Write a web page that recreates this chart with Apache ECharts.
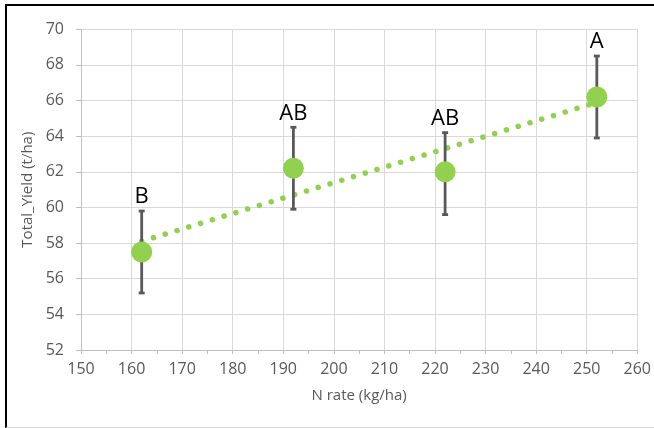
<!DOCTYPE html>
<html>
<head>
<meta charset="utf-8">
<script src="https://cdn.jsdelivr.net/npm/echarts@6/dist/echarts.min.js"></script>
<style>
  html, body { margin: 0; padding: 0; background: #fff; }
  #wrap { position: relative; width: 654px; height: 428px; overflow: hidden; background: #fff; }
  #frame { position: absolute; left: 5px; top: 4px; width: 700px; height: 421px;
           border-top: 2px solid #000; border-left: 2px solid #000; border-bottom: 1px solid #d9d9d9; }
  #chart { position: absolute; left: 0; top: 0; width: 654px; height: 428px; }
</style>
</head>
<body>
<div id="wrap">
  <div id="frame"></div>
  <div id="chart"></div>
</div>
<script>
// N rate (kg/ha)
const nRate = [162, 192, 222, 252];
// Total yield means (t/ha)
const yieldMean = [57.5, 62.2, 62.0, 66.2];
// Error bar ends
const errLow = [55.2, 59.9, 59.6, 63.9];
const errHigh = [59.8, 64.5, 64.2, 68.5];
// Significance letters
const letters = ['B', 'AB', 'AB', 'A'];
// Linear trendline end points
const trendX = [162, 252];
const trendY = [58.1, 65.9];

const FONT = 'Open Sans';
const GREEN = '#92d050';
const chart = echarts.init(document.getElementById('chart'), null, { renderer: 'canvas' });

chart.setOption({
  animation: false,
  backgroundColor: 'transparent',
  grid: { left: 81, right: 15, top: 29.3, bottom: 78, containLabel: false },
  xAxis: {
    type: 'value', min: 150, max: 260, interval: 10,
    name: 'N rate (kg/ha)', nameLocation: 'middle', nameGap: 38,
    nameTextStyle: { color: '#595959', fontSize: 15, fontFamily: FONT },
    axisLine: { show: true, lineStyle: { color: '#bfbfbf', width: 1 } },
    axisTick: { show: true, length: 4, lineStyle: { color: '#bfbfbf' } },
    minorTick: { show: true, splitNumber: 2, length: 4, lineStyle: { color: '#bfbfbf' } },
    axisLabel: { color: '#595959', fontSize: 16, fontFamily: FONT, margin: 11 },
    splitLine: { show: true, lineStyle: { color: '#d9d9d9', width: 1 } }
  },
  yAxis: {
    type: 'value', min: 52, max: 70, interval: 2,
    name: 'Total_Yield (t/ha)', nameLocation: 'middle', nameGap: 44, nameRotate: 90,
    nameTextStyle: { color: '#595959', fontSize: 15, fontFamily: FONT },
    axisLine: { show: true, lineStyle: { color: '#bfbfbf', width: 1 } },
    axisTick: { show: true, length: 5, lineStyle: { color: '#bfbfbf' } },
    axisLabel: { color: '#595959', fontSize: 16, fontFamily: FONT, margin: 17 },
    splitLine: { show: true, lineStyle: { color: '#d9d9d9', width: 1 } }
  },
  series: [
    {
      type: 'line', name: 'trend',
      data: trendX.map((x, i) => [x, trendY[i]]),
      symbol: 'none', silent: true, z: 1,
      lineStyle: { color: GREEN, width: 5.5, type: [0.1, 12.2], cap: 'round' }
    },
    {
      type: 'custom', name: 'err', z: 2,
      data: nRate.map((x, i) => [x, errLow[i], errHigh[i]]),
      encode: { x: 0, y: [1, 2] },
      renderItem: function (params, api) {
        const x = api.value(0), lo = api.value(1), hi = api.value(2);
        const pLo = api.coord([x, lo]);
        const pHi = api.coord([x, hi]);
        const st = { stroke: '#595959', lineWidth: 2.8 };
        const capW = 3;
        return {
          type: 'group',
          children: [
            { type: 'line', shape: { x1: pLo[0], y1: pLo[1], x2: pHi[0], y2: pHi[1] }, style: st },
            { type: 'line', shape: { x1: pHi[0] - capW, y1: pHi[1], x2: pHi[0] + capW, y2: pHi[1] }, style: st },
            { type: 'line', shape: { x1: pLo[0] - capW, y1: pLo[1], x2: pLo[0] + capW, y2: pLo[1] }, style: st },
            { type: 'text', style: {
                text: letters[params.dataIndex], x: pHi[0], y: pHi[1] - 3,
                align: 'center', verticalAlign: 'bottom',
                fontSize: 22, fontFamily: FONT, fill: '#000'
            } }
          ]
        };
      }
    },
    {
      type: 'scatter', name: 'mean', z: 3,
      data: nRate.map((x, i) => [x, yieldMean[i]]),
      symbol: 'circle', symbolSize: 21,
      itemStyle: { color: GREEN, opacity: 1 }
    }
  ]
});
</script>
</body>
</html>
